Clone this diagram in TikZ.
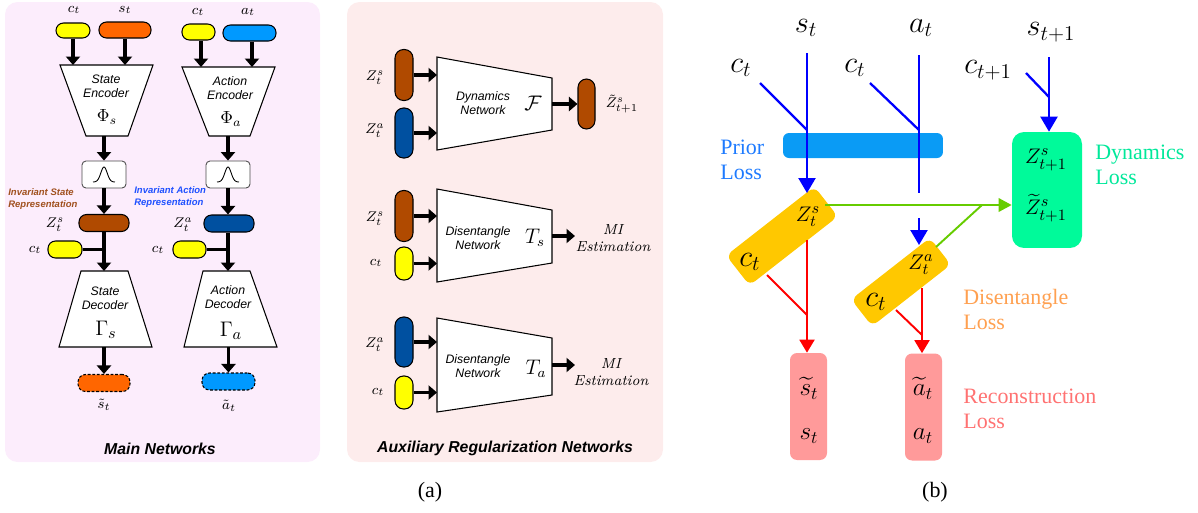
\documentclass[tikz,border=0pt]{standalone}
\usepackage{amsmath}
\usepackage{fontspec}
\newfontfamily\tnr{Liberation Serif}
\newfontfamily\ars{Liberation Sans}
\usetikzlibrary{arrows.meta}
\definecolor{mainbg}{HTML}{FCEDFC}
\definecolor{auxbg}{HTML}{FDECEC}
\definecolor{cyel}{HTML}{FFFF00}
\definecolor{corange}{HTML}{FF6600}
\definecolor{cblue}{HTML}{0099FF}
\definecolor{cbrown}{HTML}{B04A00}
\definecolor{cdblue}{HTML}{0050A0}
\definecolor{txbrown}{HTML}{A0501E}
\definecolor{txblue}{HTML}{1E50FF}
\definecolor{pbl}{HTML}{0000FF}
\definecolor{pbar}{HTML}{0A9BF5}
\definecolor{pyel}{HTML}{FFC800}
\definecolor{pgbox}{HTML}{00FA9A}
\definecolor{pgtxt}{HTML}{00E89A}
\definecolor{pgr}{HTML}{66CC00}
\definecolor{pred}{HTML}{FF0000}
\definecolor{ppink}{HTML}{FF9A9A}
\definecolor{portxt}{HTML}{FFA050}
\definecolor{ppktxt}{HTML}{FF7272}
\definecolor{ptxtblue}{HTML}{1E7BFF}
\begin{document}
\begin{tikzpicture}[x=0.02cm,y=-0.02cm,
  pill/.style={draw=black, line width=0.6pt, rounded corners=0.15cm, inner sep=0pt},
  vpill/.style={draw=black, line width=0.6pt, rounded corners=0.17cm, inner sep=0pt, minimum width=0.36cm},
  trap/.style={draw=black, fill=white, line width=0.6pt},
  arr/.style={line width=2.2pt, -{Triangle[length=0.17cm,width=0.28cm]}},
  thk/.style={line width=2.2pt},
  gbox/.style={draw=black!70, fill=white, rounded corners=0.08cm, line width=0.5pt, minimum width=0.88cm, minimum height=0.54cm, inner sep=0pt},
  lab/.style={inner sep=0pt, font=\fontsize{8.5}{9}\selectfont},
  nettxt/.style={inner sep=0pt, align=center, font=\fontsize{7}{8}\selectfont\ars\itshape},
  sym/.style={inner sep=0pt},
  mitxt/.style={inner sep=0pt, align=center, font=\fontsize{8.3}{9.6}\selectfont\itshape},
  invtxt/.style={inner sep=0pt, align=left, anchor=west, font=\fontsize{5.4}{6.8}\selectfont\ars\bfseries\itshape},
  ttl/.style={inner sep=0pt, font=\fontsize{9}{10}\selectfont\ars\bfseries\itshape},
  subcap/.style={inner sep=0pt, font=\fontsize{12.5}{14}\selectfont\tnr},
  bline/.style={draw=pbl, line width=1.3pt},
  barr/.style={bline, -{Triangle[length=0.3cm,width=0.34cm]}},
  gline/.style={draw=pgr, line width=1.1pt},
  garr/.style={gline, -{Triangle[length=0.26cm,width=0.27cm]}},
  rline/.style={draw=pred, line width=1.1pt},
  rarr/.style={rline, -{Triangle[length=0.26cm,width=0.3cm]}},
  big/.style={inner sep=0pt, font=\fontsize{17}{18}\selectfont},
  inbox/.style={inner sep=0pt, font=\fontsize{12.5}{13}\selectfont},
  pinktxt/.style={inner sep=0pt, font=\fontsize{14}{15}\selectfont},
  loss/.style={inner sep=0pt, align=left, anchor=west, font=\fontsize{12.5}{14.5}\selectfont\tnr},
  ybox/.style={fill=pyel, rounded corners=0.14cm, inner sep=0pt}
]
\useasboundingbox (0,0) rectangle (1198,512);

% ---------------- panel (a): backgrounds
\fill[mainbg, rounded corners=0.25cm] (5,2) rectangle (320,462);
\fill[auxbg, rounded corners=0.25cm] (347,2) rectangle (663,462);

% ---------------- Main networks: state column
\node[lab] (lcS) at (74,10) {$c_t$};
\node[lab] (lsS) at (125,10) {$s_t$};
\node[pill, fill=cyel, minimum width=0.68cm, minimum height=0.30cm] (cS) at (73,30.5) {};
\node[pill, fill=corange, minimum width=1.04cm, minimum height=0.32cm] (sS) at (125,30) {};
\draw[trap] (60,65) -- (153,65) -- (128,136) -- (86,136) -- cycle;
\coordinate (encStop) at (106.5,65);
\coordinate (encSbot) at (106.5,136);
\node[nettxt] (encSt) at (106,86) {State\\Encoder};
\node[sym, font=\fontsize{10}{11}\selectfont] (phiS) at (107,117) {$\Phi_s$};
\draw[arr] (cS.south) -- (cS.south |- encStop);
\draw[arr] (sS.south) -- (sS.south |- encStop);
\node[gbox] (gS) at (104,174.5) {};
\draw[line width=0.5pt] plot[domain=-11:11, samples=40] ({104+\x},{182-15*exp(-(\x/4.5)^2)});
\draw[arr] (gS.north |- encSbot) -- (gS.north);
\node[pill, fill=cbrown, minimum width=1.0cm, minimum height=0.34cm] (zS) at (104,223) {};
\draw[arr] (gS.south) -- (zS.north);
\node[lab] (lzS) at (55,225) {$Z_t^s$};
\node[invtxt, text=txbrown] (invS) at (8,199) {Invariant State\\Representation};
\node[pill, fill=cyel, minimum width=0.68cm, minimum height=0.34cm] (c2S) at (65,249.5) {};
\node[lab] (lc2S) at (35,250) {$c_t$};
\draw[trap] (81,271) -- (128,271) -- (152,347) -- (59,347) -- cycle;
\coordinate (decStop) at (104.5,271);
\coordinate (decSbot) at (105,347);
\draw[thk] (c2S.east) -- (c2S.east -| zS.south);
\draw[arr] (zS.south) -- (zS.south |- decStop);
\node[nettxt] (decSt) at (105,298) {State\\Decoder};
\node[sym, font=\fontsize{13}{14}\selectfont] (gamS) at (106,330) {$\Gamma_s$};
\node[pill, dashed, dash pattern=on 1.6pt off 1pt, fill=corange, minimum width=1.04cm, minimum height=0.34cm] (sT) at (104,383) {};
\draw[arr] (sT.north |- decSbot) -- (sT.north);
\node[lab] (lsT) at (104,405) {$\tilde{s}_t$};

% ---------------- Main networks: action column
\node[lab] (lcA) at (198,12) {$c_t$};
\node[lab] (laA) at (248,12) {$a_t$};
\node[pill, fill=cyel, minimum width=0.66cm, minimum height=0.32cm] (cA) at (198.5,32) {};
\node[pill, fill=cblue, minimum width=1.06cm, minimum height=0.32cm] (aA) at (249.5,33) {};
\draw[trap] (182,67) -- (275,67) -- (250,136) -- (209,136) -- cycle;
\coordinate (encAtop) at (228.5,67);
\coordinate (encAbot) at (228.5,136);
\node[nettxt] (encAt) at (230,88.5) {Action\\Encoder};
\node[sym, font=\fontsize{10}{11}\selectfont] (phiA) at (231,119) {$\Phi_a$};
\draw[arr] ([xshift=0.05cm]cA.south) -- ([xshift=0.05cm]cA.south |- encAtop);
\draw[arr] ([xshift=0.05cm]aA.south) -- ([xshift=0.05cm]aA.south |- encAtop);
\node[gbox] (gA) at (228,174.5) {};
\draw[line width=0.5pt] plot[domain=-11:11, samples=40] ({228+\x},{182-15*exp(-(\x/4.5)^2)});
\draw[arr] (gA.north |- encAbot) -- (gA.north);
\node[pill, fill=cdblue, minimum width=1.0cm, minimum height=0.34cm] (zA) at (229,223.5) {};
\draw[arr] (gA.south) -- (gA.south |- zA.north);
\node[lab] (lzA) at (183,225) {$Z_t^a$};
\node[invtxt, text=txblue] (invA) at (134,197) {Invariant Action\\Representation};
\node[pill, fill=cyel, minimum width=0.66cm, minimum height=0.34cm] (c2A) at (189.5,249.5) {};
\node[lab] (lc2A) at (158,250) {$c_t$};
\draw[trap] (203,271) -- (250,271) -- (277,347) -- (184,347) -- cycle;
\coordinate (decAtop) at (228,271);
\coordinate (decAbot) at (229,347);
\draw[thk] (c2A.east) -- (c2A.east -| gA.south);
\draw[arr] (gA.south |- zA.south) -- (gA.south |- decAtop);
\node[nettxt] (decAt) at (228,297) {Action\\Decoder};
\node[sym, font=\fontsize{13}{14}\selectfont] (gamA) at (231,331) {$\Gamma_a$};
\node[pill, dashed, dash pattern=on 1.6pt off 1pt, fill=cblue, minimum width=1.06cm, minimum height=0.34cm] (aT) at (228.5,381.5) {};
\draw[arr] (aT.north |- decAbot) -- (aT.north);
\node[lab] (laT) at (229,406) {$\tilde{a}_t$};

\node[ttl] (tMain) at (160,449) {Main Networks};

% ---------------- Auxiliary: dynamics
\node[vpill, fill=cbrown, minimum height=1.02cm] (dZs) at (404,75) {};
\node[vpill, fill=cdblue, minimum height=1.0cm] (dZa) at (404,133) {};
\node[lab] (ldZs) at (375,78) {$Z_t^s$};
\node[lab] (ldZa) at (375,131) {$Z_t^a$};
\draw[trap] (437,57) -- (552,78) -- (552,130) -- (437,150) -- cycle;
\coordinate (dynL) at (437,100);
\coordinate (dynR) at (552,104);
\draw[arr] (dZs.east) -- (dZs.east -| dynL);
\draw[arr] (dZa.east) -- (dZa.east -| dynL);
\node[nettxt] (dynt) at (483,103) {Dynamics\\Network};
\node[sym, font=\fontsize{13}{14}\selectfont] (dynF) at (533,103) {$\mathcal{F}$};
\node[vpill, fill=cbrown, minimum width=0.34cm, minimum height=1.0cm] (dZn) at (586.5,104) {};
\draw[arr] (dynR) -- (dZn.west);
\node[lab] (ldZn) at (622,104) {$\tilde{Z}_{t+1}^s$};

% ---------------- Auxiliary: disentangle T_s
\node[vpill, fill=cbrown, minimum height=1.02cm] (sZs) at (404,216) {};
\node[vpill, fill=cyel, minimum height=0.66cm] (sCt) at (404,263.5) {};
\node[lab] (lsZs) at (375,219) {$Z_t^s$};
\node[lab] (lsCt) at (376,263) {$c_t$};
\draw[trap] (437,189) -- (552,210) -- (552,263) -- (437,282) -- cycle;
\coordinate (tsL) at (437,236);
\coordinate (tsR) at (552,236);
\coordinate (tsOut) at (575,236);
\draw[arr] (sZs.east) -- (sZs.east -| tsL);
\draw[arr] (sCt.east) -- (sCt.east -| tsL);
\node[nettxt] (tst) at (478,238) {Disentangle\\Network};
\node[sym, font=\fontsize{12}{13}\selectfont] (tsT) at (535,238) {$T_s$};
\draw[arr] (tsR) -- (tsOut);
\node[mitxt] (tsMI) at (613,238.5) {MI\\Estimation};

% ---------------- Auxiliary: disentangle T_a
\node[vpill, fill=cdblue, minimum height=1.0cm] (aZa) at (404,342) {};
\node[vpill, fill=cyel, minimum height=0.66cm] (aCt) at (404,392.5) {};
\node[lab] (laZa) at (375,345) {$Z_t^a$};
\node[lab] (laCt) at (378,392) {$c_t$};
\draw[trap] (437,318) -- (552,338) -- (552,395) -- (437,412) -- cycle;
\coordinate (taL) at (437,366);
\coordinate (taR) at (552,365);
\coordinate (taOut) at (575,365);
\draw[arr] (aZa.east) -- (aZa.east -| taL);
\draw[arr] (aCt.east) -- (aCt.east -| taL);
\node[nettxt] (tat) at (478,366) {Disentangle\\Network};
\node[sym, font=\fontsize{12}{13}\selectfont] (taT) at (536,369) {$T_a$};
\draw[arr] (taR) -- (taOut);
\node[mitxt] (taMI) at (611,372) {MI\\Estimation};

\node[ttl] (tAux) at (505,448) {Auxiliary Regularization Networks};

\node[subcap] (capA) at (430,492) {(a)};

% ---------------- panel (b)
\node[fill=pbar, rounded corners=0.12cm, minimum width=3.2cm, minimum height=0.5cm, inner sep=0pt] (prior) at (863,145.5) {};
\node[loss, text=ptxtblue] (lprior) at (720,160) {Prior\\Loss};

\node[ybox, rotate=38, minimum width=2.24cm, minimum height=0.76cm] (yS) at (782,236) {};
\node[ybox, rotate=38, minimum width=2.0cm, minimum height=0.68cm] (yA) at (901,282) {};
\node[inbox] (tzS) at (808,217) {$Z^{s}_{t}$};
\node[big] (tcS) at (750,262) {$c_{t}$};
\node[inbox] (tzA) at (921,265) {$Z^{a}_{t}$};
\node[big] (tcA) at (876,302) {$c_{t}$};

\node[fill=pgbox, rounded corners=0.24cm, minimum width=1.4cm, minimum height=2.32cm, inner sep=0pt] (dyn) at (1047,190) {};
\node[inbox] (tzn) at (1046,160) {$Z^{s}_{t+1}$};
\node[inbox] (tzp) at (1046,208) {$\widetilde{Z}^{s}_{t+1}$};
\node[loss, text=pgtxt] (ldyn) at (1095,165) {Dynamics\\Loss};

\node[fill=ppink, rounded corners=0.14cm, minimum width=0.74cm, minimum height=2.14cm, inner sep=0pt] (pS) at (808.5,406.5) {};
\node[fill=ppink, rounded corners=0.14cm, minimum width=0.74cm, minimum height=2.14cm, inner sep=0pt] (pA) at (923.5,407) {};
\node[pinktxt] (tsr) at (809,388) {$\widetilde{s}_{t}$};
\node[pinktxt] (tsg) at (809,436) {$s_{t}$};
\node[pinktxt] (tar) at (923,388) {$\widetilde{a}_{t}$};
\node[pinktxt] (tag) at (923,436) {$a_{t}$};
\node[loss, text=portxt] (ldis) at (963,309.5) {Disentangle\\Loss};
\node[loss, text=ppktxt] (lrec) at (963,409) {Reconstruction\\Loss};

% top labels
\node[big] (bst) at (806,28) {$s_{t}$};
\node[big] (bat) at (921,28) {$a_{t}$};
\node[big] (bc1) at (741,68) {$c_{t}$};
\node[big] (bc2) at (855,68) {$c_{t}$};
\node[big] (bsn) at (1051,32) {$s_{t+1}$};
\node[big] (bcn) at (988,70) {$c_{t+1}$};

% blue connectors
\coordinate (stT) at (807,53);
\coordinate (jS) at (807,130);
\coordinate (zsIn) at (807,193);
\coordinate (ctS) at (760,83);
\draw[bline] (ctS) -- (jS);
\draw[barr] (stT) -- (zsIn);
\coordinate (atT) at (919,55);
\coordinate (jA) at (919,130);
\coordinate (atGap1) at (919,193);
\coordinate (atGap2) at (919,218);
\coordinate (zaIn) at (919,245);
\coordinate (ctA) at (870,83);
\draw[bline] (ctA) -- (jA);
\draw[bline] (atT) -- (atGap1);
\draw[barr] (atGap2) -- (zaIn);
\coordinate (snT) at (1049,57);
\coordinate (jN) at (1049,97);
\coordinate (cnT) at (1026,73);
\draw[bline] (cnT) -- (jN);
\draw[barr] (snT) -- (snT |- dyn.north);

% green connectors
\coordinate (gS0) at (825,205);
\coordinate (gJ) at (982,205);
\coordinate (gA0) at (936,247);
\draw[garr] (gS0) -- (dyn.west |- gS0);
\draw[gline] (gA0) -- (gJ);

% red connectors
\coordinate (rS0) at (807,240);
\coordinate (rSJ) at (807,315);
\coordinate (rSc) at (767,275);
\draw[rline] (rSc) -- (rSJ);
\draw[rarr] (rS0) -- (rS0 |- pS.north);
\coordinate (rA0) at (922,288);
\coordinate (rAJ) at (922,335);
\coordinate (rAc) at (896,310);
\draw[rline] (rAc) -- (rAJ);
\draw[rarr] (rA0) -- (rA0 |- pA.north);

\node[subcap] (capB) at (935,492) {(b)};
\end{tikzpicture}
\end{document}
